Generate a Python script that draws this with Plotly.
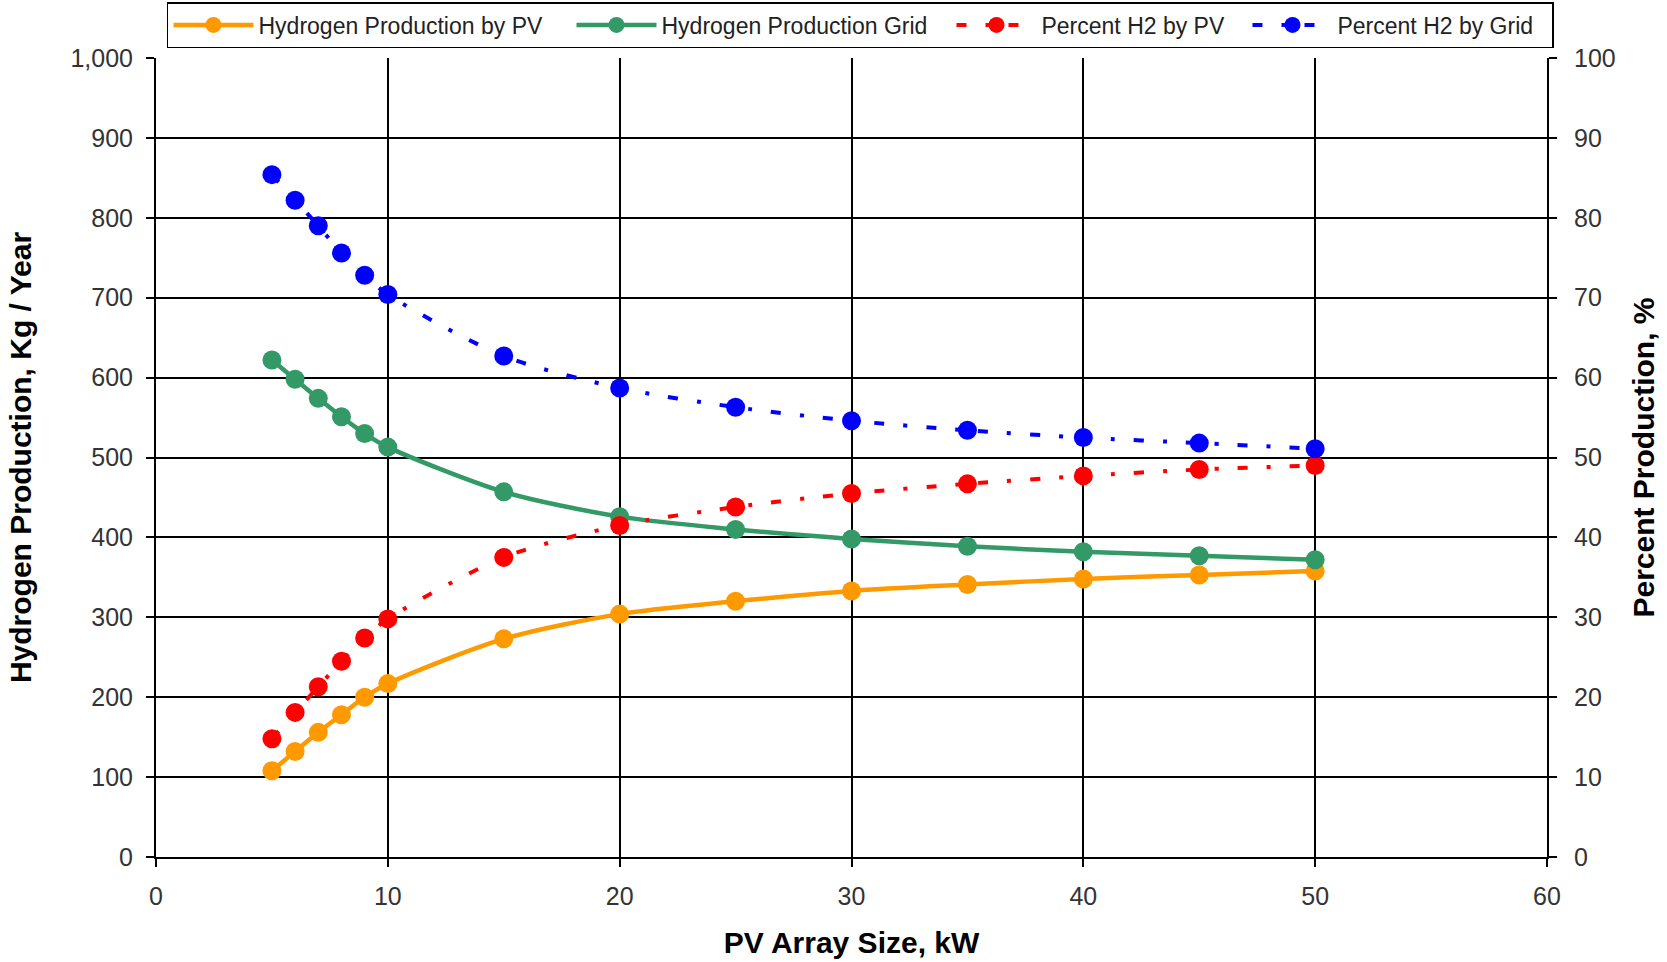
import plotly.graph_objects as go

# ---- data ----
pv_size_kw = [5, 6, 7, 8, 9, 10, 15, 20, 25, 30, 35, 40, 45, 50]
h2_by_pv = [108, 132, 156, 178, 200, 217, 273, 304, 320, 333, 341, 348, 353, 358]
h2_by_grid = [622, 598, 574, 551, 530, 513, 457, 426, 410, 398, 389, 382, 377, 372]
pct_by_pv = [14.8, 18.1, 21.3, 24.5, 27.4, 29.8, 37.5, 41.5, 43.8, 45.5, 46.7, 47.7, 48.5, 49.0]
pct_by_grid = [85.4, 82.2, 79.0, 75.6, 72.8, 70.4, 62.7, 58.7, 56.3, 54.6, 53.4, 52.5, 51.8, 51.1]

names = ["Hydrogen Production by PV", "Hydrogen Production Grid",
         "Percent H2 by PV", "Percent H2 by Grid"]

x_title = "PV Array Size, kW"
y_title = "Hydrogen Production, Kg / Year"
y2_title = "Percent Production, %"

ORANGE = "#FF9900"
GREEN = "#339966"
RED = "#FF0000"
BLUE = "#0000FF"
FONT = "Liberation Sans, Arial, sans-serif"
DASH = "10px,19px,4px,19px"
LEGEND_W = [308, 285, 201, 210]

fig = go.Figure()
fig.add_trace(go.Scatter(x=pv_size_kw, y=h2_by_pv, name=names[0], mode="lines+markers",
                         legendwidth=LEGEND_W[0],
                         line=dict(color=ORANGE, width=4.5, shape="spline", smoothing=0.8),
                         marker=dict(color=ORANGE, size=19, symbol="circle")))
fig.add_trace(go.Scatter(x=pv_size_kw, y=h2_by_grid, name=names[1], mode="lines+markers",
                         legendwidth=LEGEND_W[1],
                         line=dict(color=GREEN, width=4.5, shape="spline", smoothing=0.8),
                         marker=dict(color=GREEN, size=19, symbol="circle")))
fig.add_trace(go.Scatter(x=pv_size_kw, y=pct_by_pv, name=names[2], mode="lines+markers", yaxis="y2",
                         legendwidth=LEGEND_W[2],
                         line=dict(color=RED, width=4, dash=DASH, shape="spline", smoothing=0.8),
                         marker=dict(color=RED, size=19, symbol="circle")))
fig.add_trace(go.Scatter(x=pv_size_kw, y=pct_by_grid, name=names[3], mode="lines+markers", yaxis="y2",
                         legendwidth=LEGEND_W[3],
                         line=dict(color=BLUE, width=4, dash=DASH, shape="spline", smoothing=0.8),
                         marker=dict(color=BLUE, size=19, symbol="circle")))

tickfont = dict(family=FONT, size=25, color="#333333")
titlefont = dict(family=FONT, size=30, color="black", weight="bold")

fig.update_layout(
    width=1667, height=962,
    margin=dict(l=156, r=120, t=58, b=105, pad=0, autoexpand=False),
    paper_bgcolor="white", plot_bgcolor="white",
    font=dict(family=FONT, color="black"),
    showlegend=True,
    legend=dict(orientation="h", x=0.0079, xanchor="left", y=1.0125, yanchor="bottom",
                xref="paper", yref="paper",
                font=dict(family=FONT, size=23, color="#222222"),
                bordercolor="black", borderwidth=1.5, bgcolor="white",
                itemwidth=80, tracegroupgap=0),
    xaxis=dict(range=[0, 60], dtick=10, tick0=0, automargin=False,
               showline=True, linecolor="black", linewidth=2,
               ticks="outside", ticklen=8, tickwidth=2, tickcolor="black",
               showgrid=True, gridcolor="black", gridwidth=1.5, zeroline=False,
               tickfont=tickfont, ticklabelstandoff=8,
               title=dict(text=x_title, font=titlefont, standoff=23)),
    yaxis=dict(range=[0, 1000], dtick=100, tick0=0, tickformat=",d", automargin=False,
               showline=True, linecolor="black", linewidth=2,
               ticks="outside", ticklen=8, tickwidth=2, tickcolor="black",
               showgrid=True, gridcolor="black", gridwidth=1.5, zeroline=False,
               tickfont=tickfont, ticklabelstandoff=8,
               title=dict(text=y_title, font=titlefont, standoff=30)),
    yaxis2=dict(range=[0, 100], dtick=10, tick0=0, overlaying="y", side="right", automargin=False,
                showline=True, linecolor="black", linewidth=2,
                ticks="outside", ticklen=8, tickwidth=2, tickcolor="black",
                showgrid=False, zeroline=False,
                tickfont=tickfont, ticklabelstandoff=12,
                title=dict(text=y2_title, font=titlefont, standoff=18)),
)

fig.write_html("out.html", config={"displayModeBar": False},
               post_script="document.body.style.margin='0';")
